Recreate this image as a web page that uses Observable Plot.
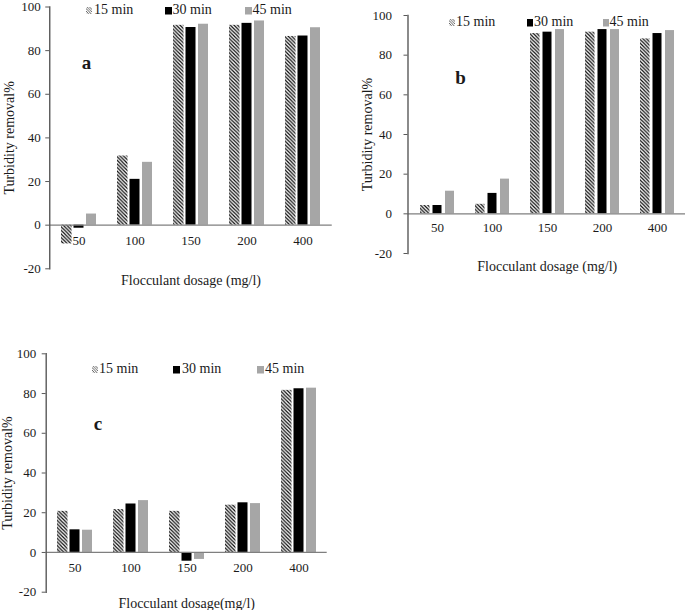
<!DOCTYPE html>
<html>
<head>
<meta charset="utf-8">
<script src="https://cdn.jsdelivr.net/npm/d3@7"></script>
<script src="https://cdn.jsdelivr.net/npm/@observablehq/plot@0.6"></script>
<style>
  html, body { margin: 0; padding: 0; background: #fff; }
  #root { position: relative; width: 685px; height: 610px; overflow: hidden; font-family: "Liberation Serif", "Times New Roman", serif; color: #1a1a1a; }
  .panel { position: absolute; }
  .legend-item { position: absolute; font-size: 14px; line-height: 14px; white-space: nowrap; transform: translateY(-50%); display: flex; align-items: center; }
  .legend-item svg { margin-right: 1px; }
</style>
</head>
<body>
<div id="root"></div>
<script>
// ---------- data ----------
const doses = ["50", "100", "150", "200", "400"];
const series = ["15 min", "30 min", "45 min"];
const yTicks = [-20, 0, 20, 40, 60, 80, 100];

const a15 = [-8.6, 31.7, 91.6, 91.6, 86.5];
const a30 = [-1.4, 21.0, 90.6, 92.5, 86.7];
const a45 = [5.1, 28.8, 92.1, 93.6, 90.5];

const b15 = [4.2, 4.8, 90.9, 91.6, 88.2];
const b30 = [4.2, 10.3, 91.6, 92.9, 90.9];
const b45 = [11.4, 17.5, 92.9, 92.9, 92.4];

const c15 = [20.7, 21.6, 20.7, 23.8, 81.6];
const c30 = [11.4, 24.4, -4.4, 25.0, 82.4];
const c45 = [11.2, 26.1, -3.5, 24.6, 82.7];

const yTitle = "Turbidity removal%";
const xTitles = ["Flocculant dosage (mg/l)", "Flocculant dosage (mg/l)", "Flocculant dosage(mg/l)"];
const panelLetters = ["a", "b", "c"];

// ---------- styles / layout ----------
const GREY = "#a6a6a6";
const AXIS = "#595959";
const TXT = "#1a1a1a";

const layouts = [
  { left: 0,   top: 0,   width: 340, height: 292, mt: 6.5,  mb: 23.7, ml: 49.25, mr: 8.25,
    yTitleDx: -40, yTickPad: 5, labelDx: 36.75, labelDy: 56, xlabDy: 16, xTitleDy: 12,
    legend: { y: 10, items: [[86, 93], [164.5, 171.5], [244.5, 251.5]] } },
  { left: 345, top: 0,   width: 341, height: 282, mt: 15,   mb: 29,   ml: 62.5,  mr: 0,
    yTitleDx: -40.8, yTickPad: 12, labelDx: 52.5, labelDy: 62.5, xlabDy: 14, xTitleDy: 13,
    legend: { y: 22, items: [[449, 455], [526.5, 533], [602.5, 608.5]] } },
  { left: 0,   top: 330, width: 340, height: 280, mt: 23.3, mb: 18.3, ml: 45.7,  mr: 13.3,
    yTitleDx: -38.7, yTickPad: 6, labelDx: 51.8, labelDy: 69.7, xlabDy: 15, xTitleDy: 11.6,
    legend: { y: 369, items: [[91.5, 98], [173, 181], [257, 264]] } }
];

const panelValues = [[a15, a30, a45], [b15, b30, b45], [c15, c30, c45]];

function hatchDefs(id) {
  return () => {
    const g = d3.create("svg:g");
    const s = 3.6;
    const p = g.append("defs").append("pattern")
      .attr("id", id).attr("patternUnits", "userSpaceOnUse")
      .attr("width", s).attr("height", s);
    p.append("rect").attr("width", s).attr("height", s).attr("fill", "#fff");
    p.append("path")
      .attr("d", `M0,0L${s},${s}M${-s/2},${s/2}L${s/2},${1.5*s}M${s/2},${-s/2}L${1.5*s},${s/2}`)
      .attr("stroke", "#0a0a0a").attr("stroke-width", 1.2);
    return g.node();
  };
}

const root = document.getElementById("root");

layouts.forEach((L, k) => {
  const vals = panelValues[k];
  const rows = doses.flatMap((d, i) => series.map((s, j) => ({ dose: d, series: s, value: vals[j][i] })));
  const hid = "hatch-" + panelLetters[k];
  const fills = ["url(#" + hid + ")", "#000", GREY];
  const insets = [[0, 24.5], [12.5, 12.5], [25, 0]];

  const bars = series.map((s, j) => Plot.barY(rows.filter(r => r.series === s), {
    x: "dose", y: "value", fill: fills[j],
    insetLeft: insets[j][0], insetRight: insets[j][1]
  }));

  const chart = Plot.plot({
    width: L.width, height: L.height,
    marginTop: L.mt, marginBottom: L.mb, marginLeft: L.ml, marginRight: L.mr,
    style: { fontFamily: "Liberation Serif, Times New Roman, serif", color: TXT, background: "transparent", overflow: "visible" },
    x: { domain: doses, type: "band", paddingInner: 0.375, paddingOuter: 0.1875, axis: null },
    y: { domain: [-20, 100], label: null },
    marks: [
      hatchDefs(hid),
      ...bars,
      Plot.ruleY([0], { stroke: "#7f7f7f", strokeWidth: 1.3 }),
      Plot.frame({ anchor: "left", stroke: AXIS, strokeWidth: 1.4 }),
      Plot.axisY({ ticks: yTicks, tickSize: 4, tickPadding: L.yTickPad, tickFormat: d => String(d),
        fontSize: 13, fill: TXT, stroke: AXIS, label: null }),
      Plot.text(doses, { x: d => d, y: () => 0, text: d => d, dy: L.xlabDy, fontSize: 13, fill: TXT }),
      Plot.text([xTitles[k]], { frameAnchor: "bottom", dy: L.xTitleDy, fontSize: 14, fill: TXT, lineAnchor: "middle" }),
      Plot.text([yTitle], { frameAnchor: "left", rotate: -90, dx: L.yTitleDx, fontSize: 14, fill: TXT,
        textAnchor: "middle", lineAnchor: "middle" }),
      Plot.text([panelLetters[k]], { frameAnchor: "top-left", dx: L.labelDx, dy: L.labelDy, fontSize: 19,
        fontWeight: "bold", fill: TXT, textAnchor: "middle", lineAnchor: "middle" })
    ]
  });
  chart.classList.add("panel");
  chart.style.left = L.left + "px";
  chart.style.top = L.top + "px";
  root.appendChild(chart);

  // legend
  series.forEach((s, j) => {
    const [sx, tx] = L.legend.items[j];
    const item = document.createElement("div");
    item.className = "legend-item";
    item.style.left = sx + "px";
    item.style.top = L.legend.y + "px";
    const sw = d3.create("svg").attr("width", tx - sx).attr("height", 9);
    if (j === 0) {
      const pid = "lg-" + hid;
      const p = sw.append("defs").append("pattern").attr("id", pid)
        .attr("patternUnits", "userSpaceOnUse").attr("width", 2.6).attr("height", 2.6);
      p.append("path").attr("d", "M0,0L2.6,2.6M-1.3,1.3L1.3,3.9M1.3,-1.3L3.9,1.3")
        .attr("stroke", "#333").attr("stroke-width", 0.8);
      sw.append("rect").attr("x", 0).attr("y", 1).attr("width", 6).attr("height", 7).attr("fill", "url(#" + pid + ")");
    } else {
      sw.append("rect").attr("x", 0).attr("y", 1).attr("width", 7).attr("height", 7.5).attr("fill", j === 1 ? "#000" : GREY);
    }
    item.appendChild(sw.node());
    const t = document.createElement("span");
    t.textContent = s;
    item.appendChild(t);
    root.appendChild(item);
  });
});
</script>
</body>
</html>
